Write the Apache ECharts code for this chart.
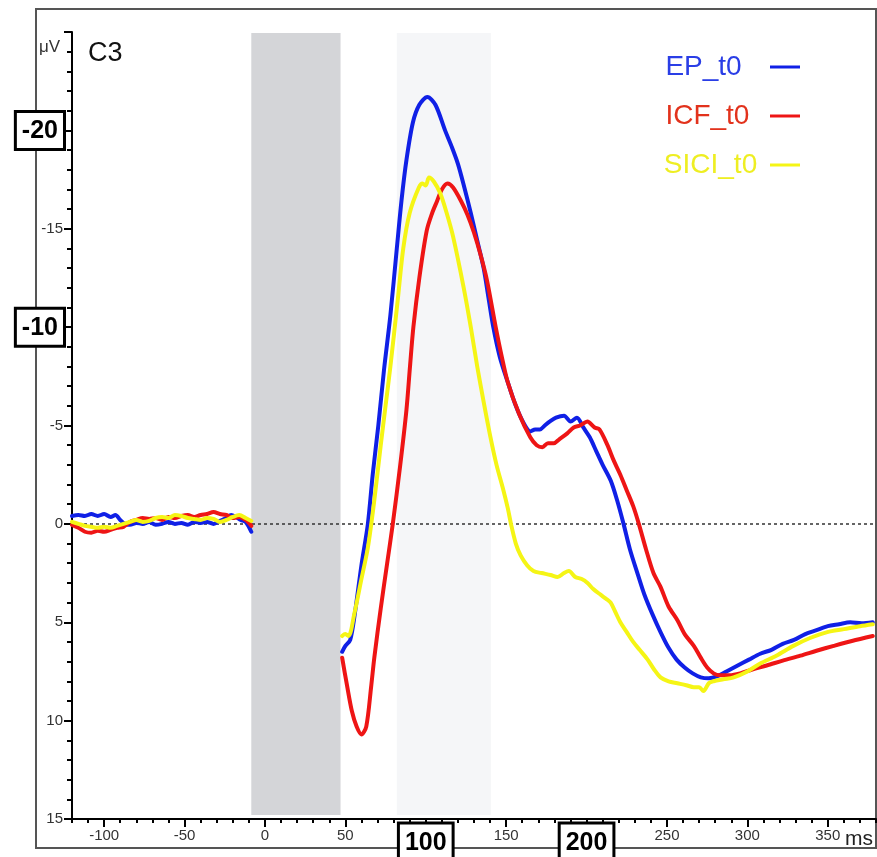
<!DOCTYPE html>
<html>
<head>
<meta charset="utf-8">
<script src="https://cdn.jsdelivr.net/npm/echarts@6/dist/echarts.min.js"></script>
<style>
html,body{margin:0;padding:0;background:#fff;}
#chart{width:877px;height:857px;}
</style>
</head>
<body>
<div id="chart"></div>
<script>
// ---------- data (ms, µV) ----------
const xTickLabels = [-100, -50, 0, 50, 100, 150, 200, 250, 300, 350];
const xBoxed = [100, 200];
const yTickLabels = [-20, -15, -10, -5, 0, 5, 10, 15];
const yBoxed = [-20, -10];
const stimGap = [-8.5, 47];
const windowBand = [82, 140.5];

const epPreT = [-120,-116,-112,-108,-104,-100,-96,-93,-90,-87,-84,-80,-76,-72,-68,-64,-60,-56,-52,-48,-44,-40,-36,-32,-28,-24,-21,-18,-15,-12,-8.5];
const epPreV = [-0.4,-0.45,-0.4,-0.5,-0.4,-0.5,-0.35,-0.45,-0.2,0.0,0.05,-0.05,0.0,-0.1,0.05,0.0,-0.1,0.0,-0.05,0.05,-0.1,-0.05,-0.1,0.0,-0.15,-0.3,-0.45,-0.35,-0.2,-0.1,0.4];
const epPostT = [48,50,53,56,60,64,67,70.5,74,78,82,85,88,92,96,101,106,112,116,120,124,128,132,136,139,142,146,151,156,161,165,168,171,174,177,181,186,190,194,198,202,206,210,215,219,223,227,232,236,241,246,251,256,261,266,271,276,281,287,294,301,308,315,322,329,336,343,350,357,364,371,378];
const epPostV = [6.5,6.2,5.9,4.5,2.1,0,-2.5,-5,-7.8,-10.6,-14,-16.5,-18.5,-20.4,-21.3,-21.7,-21.3,-20,-19.2,-18.3,-17.1,-15.8,-14.4,-13,-11.5,-10,-8.5,-7.2,-6.0,-5.1,-4.7,-4.8,-4.8,-5.0,-5.2,-5.4,-5.5,-5.2,-5.4,-4.9,-4.4,-3.7,-3.0,-2.2,-1.2,0,1.3,2.6,3.6,4.6,5.5,6.3,6.9,7.3,7.6,7.8,7.85,7.75,7.5,7.2,6.9,6.6,6.4,6.1,5.9,5.6,5.4,5.2,5.1,5.0,5.05,5.0];

const icfPreT = [-120,-116,-112,-108,-104,-100,-96,-92,-88,-84,-80,-76,-72,-68,-64,-60,-56,-52,-48,-44,-40,-36,-32,-28,-24,-20,-16,-12,-8.5];
const icfPreV = [0.05,0.2,0.4,0.45,0.35,0.4,0.3,0.2,0.15,-0.1,-0.2,-0.3,-0.25,-0.3,-0.2,-0.35,-0.3,-0.4,-0.45,-0.35,-0.45,-0.5,-0.6,-0.5,-0.45,-0.3,-0.35,-0.2,0.1];
const icfPostT = [48,51,54,57,60,63,66,68,72,76,79.5,84,88,90.2,92.3,96,100.6,104,107,110,113.5,117,122,126,130,134,138,143.5,147,151,158,165,169,172.5,176,179.6,183,188,192,196,200.5,205,208,213,217,221,225,229,232.5,237,241.6,246,251,256.5,261,266.7,271,275,279,283,289,295.6,303,312,322,333,343,353.7,365,378];
const icfPostV = [6.8,8.2,9.5,10.3,10.7,10.3,8.3,6.8,4.3,2.0,0,-2.9,-5.8,-8.0,-10.0,-12.5,-14.9,-15.8,-16.4,-17.0,-17.3,-17.1,-16.4,-15.7,-14.8,-13.7,-12.4,-10,-8.6,-7.2,-5.6,-4.4,-4.0,-3.9,-4.1,-4.1,-4.3,-4.6,-4.9,-5.0,-5.2,-4.9,-4.8,-4.0,-3.2,-2.5,-1.7,-0.9,0,1.3,2.5,3.2,4.2,4.9,5.6,6.2,6.8,7.3,7.6,7.7,7.7,7.6,7.4,7.2,6.95,6.7,6.45,6.2,5.95,5.7];

const siciPreT = [-120,-116,-112,-108,-104,-100,-96,-92,-88,-84,-80,-76,-72,-68,-64,-60,-56,-52,-48,-44,-40,-36,-32,-28,-24,-20,-16,-12,-8.5];
const siciPreV = [-0.1,0.0,0.1,0.15,0.2,0.15,0.2,0.1,0.0,-0.1,-0.2,-0.1,-0.15,-0.3,-0.35,-0.3,-0.45,-0.4,-0.3,-0.25,-0.2,-0.3,-0.25,-0.1,-0.2,-0.35,-0.45,-0.3,-0.15];
const siciPostT = [48,50,52,55.5,60,64,68,72,75,78,82.6,86,90,95.7,98,100,102,105,109,113,117,123.6,128,132,136,140,144,148,151,153,156,159,163,167,172,177.6,182,186,189,193,197,200.6,204,208.7,212,215,218,221,225,229,233,238,242,246,251,256.5,262,266.7,270,272.7,276,279,285,291.5,300,308,318,328.6,339,349.7,360,370,378];
const siciPostV = [5.7,5.6,5.7,4.6,2.8,1.2,-1.2,-4.0,-6.0,-8,-11.4,-14.0,-15.8,-17.1,-17.3,-17.2,-17.6,-17.4,-16.8,-15.8,-14.6,-12,-10,-8.0,-6.2,-4.5,-3.0,-1.8,-0.8,0,1.0,1.6,2.1,2.4,2.5,2.6,2.7,2.5,2.4,2.7,2.8,3.0,3.3,3.6,3.8,4.0,4.5,5.0,5.5,6.0,6.4,6.9,7.4,7.8,8.0,8.1,8.2,8.3,8.3,8.5,8.1,8.0,7.9,7.8,7.5,7.1,6.7,6.2,5.8,5.5,5.35,5.2,5.1];

// ---------- helpers ----------
const FONT = '"Liberation Sans", Arial, Helvetica, sans-serif';
function zip(t, v) { return t.map((x, i) => [x, v[i]]); }
function trace(preT, preV, postT, postV) {
  const gapMid = (stimGap[0] + stimGap[1]) / 2;
  return zip(preT, preV).concat([[gapMid, '-']], zip(postT, postV));
}

const C_BLUE = '#1020e6', C_RED = '#ee1515', C_YEL = '#f5f515';

const boxRich = {
  b: {
    fontFamily: FONT, fontSize: 25, fontWeight: 'bold', color: '#000',
    borderColor: '#000', borderWidth: 3, backgroundColor: '#fff',
    padding: [6, 5, 4, 5], lineHeight: 28
  }
};

const chart = echarts.init(document.getElementById('chart'), null, { renderer: 'canvas' });

function lineSeries(name, color, data) {
  return {
    name, type: 'line', data, showSymbol: false, symbol: 'none',
    smooth: 0.3, connectNulls: false, z: 5,
    lineStyle: { color, width: 4, cap: 'round', join: 'round' },
    itemStyle: { color }
  };
}

const legendPad = { 'EP_t0': '   ', 'ICF_t0': '  ', 'SICI_t0': ' ' };

const option = {
  animation: false,
  backgroundColor: '#fff',
  grid: { left: 72, right: 1, top: 32, bottom: 38, containLabel: false, outerBoundsMode: 'none' },
  legend: {
    orient: 'vertical', right: 72, top: 47, align: 'right',
    itemGap: 19, itemWidth: 30, itemHeight: 3, icon: 'rect',
    selectedMode: false,
    formatter: n => n + (legendPad[n] || ''),
    textStyle: { fontFamily: FONT, fontSize: 28, lineHeight: 30 },
    data: [
      { name: 'EP_t0', textStyle: { color: '#2a3ee6' } },
      { name: 'ICF_t0', textStyle: { color: '#e2321c' } },
      { name: 'SICI_t0', textStyle: { color: '#eeee22' } }
    ]
  },
  xAxis: [
    {
      type: 'value', min: -120, max: 380, position: 'bottom',
      axisLine: { show: true, onZero: false, lineStyle: { color: '#000', width: 2 } },
      axisTick: { show: true, customValues: xTickLabels, length: 8, lineStyle: { color: '#000', width: 2 } },
      axisLabel: {
        show: true, customValues: xTickLabels, margin: 9,
        fontFamily: FONT, fontSize: 15, color: '#333',
        formatter: v => xBoxed.includes(v) ? '{b|' + v + '}' : String(v),
        rich: boxRich
      },
      splitLine: { show: false }
    },
    {
      type: 'value', min: -120, max: 380, interval: 10, position: 'bottom',
      axisLine: { show: false, onZero: false },
      axisTick: { show: true, length: 4, lineStyle: { color: '#000', width: 2 } },
      axisLabel: { show: false },
      splitLine: { show: false }
    }
  ],
  yAxis: {
    type: 'value', min: -25, max: 15, interval: 5, inverse: true,
    axisLine: { show: true, onZero: false, lineStyle: { color: '#000', width: 2 } },
    axisTick: { show: true, length: 8, lineStyle: { color: '#000', width: 2 } },
    minorTick: { show: true, splitNumber: 5, length: 5, lineStyle: { color: '#000', width: 2 } },
    axisLabel: {
      margin: 9, fontFamily: FONT, fontSize: 15, color: '#333',
      formatter: v => {
        if (!yTickLabels.includes(v)) return '';
        return yBoxed.includes(v) ? '{b|' + v + '}' : String(v);
      },
      rich: boxRich
    },
    splitLine: { show: false }
  },
  series: [
    {
      name: 'window', type: 'line', data: [], z: 0, silent: true,
      markArea: {
        silent: true,
        itemStyle: { color: '#f5f6f8', opacity: 1 },
        data: [[{ xAxis: windowBand[0], yAxis: -24.95 }, { xAxis: windowBand[1], yAxis: 14.8 }]]
      }
    },
    {
      name: 'zero', type: 'line', data: [], z: 1, silent: true,
      markLine: {
        silent: true, symbol: 'none', label: { show: false },
        lineStyle: { color: '#333', type: [3, 3], width: 1.5 },
        data: [{ yAxis: 0 }]
      }
    },
    {
      name: 'gap', type: 'line', data: [], z: 2, silent: true,
      markArea: {
        silent: true,
        itemStyle: { color: '#d4d5d8', opacity: 1 },
        data: [[{ xAxis: stimGap[0], yAxis: -24.95 }, { xAxis: stimGap[1], yAxis: 14.8 }]]
      }
    },
    lineSeries('EP_t0', C_BLUE, trace(epPreT, epPreV, epPostT, epPostV)),
    lineSeries('ICF_t0', C_RED, trace(icfPreT, icfPreV, icfPostT, icfPostV)),
    lineSeries('SICI_t0', C_YEL, trace(siciPreT, siciPreV, siciPostT, siciPostV))
  ],
  graphic: [
    { type: 'rect', z: -10, silent: true,
      shape: { x: 36, y: 9, width: 840, height: 839 },
      style: { fill: 'none', stroke: '#555', lineWidth: 2 } },
    { type: 'text', left: 39, top: 39, silent: true,
      style: { text: 'μV', font: '17px ' + FONT, fill: '#333' } },
    { type: 'text', left: 88, top: 40, silent: true,
      style: { text: 'C3', font: '27px ' + FONT, fill: '#111' } },
    { type: 'text', left: 845, top: 829, silent: true,
      style: { text: 'ms', font: '21px ' + FONT, fill: '#222' } }
  ]
};
chart.setOption(option);
</script>
</body>
</html>
